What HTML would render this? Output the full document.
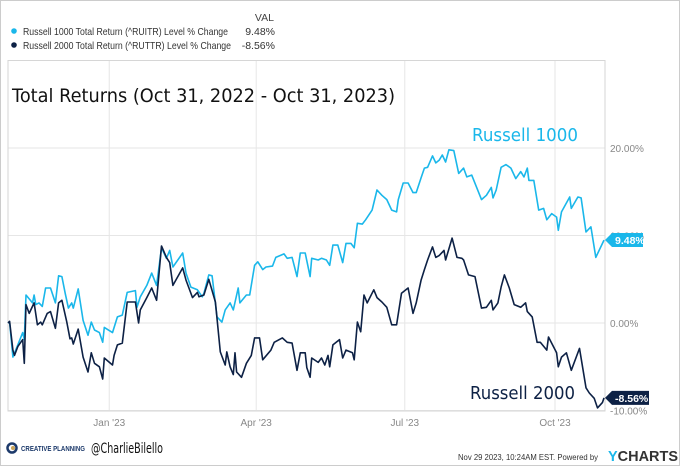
<!DOCTYPE html>
<html><head><meta charset="utf-8"><style>
body{margin:0;background:#fff;}
svg text{font-family:"Liberation Sans Narrow","Liberation Sans",sans-serif;}
.hand{font-family:"DejaVu Sans","Liberation Sans",sans-serif !important;}
</style></head><body>
<svg width="680" height="466" xmlns="http://www.w3.org/2000/svg">
<rect x="0.5" y="0.5" width="679" height="465" fill="#fff" stroke="#ccc"/>
<g font-size="10.5" fill="#333">
<text x="274" y="21" text-anchor="end" fill="#444">VAL</text>
<circle cx="14" cy="31" r="2.8" fill="#1ab7ea"/>
<text x="23" y="35" textLength="205" lengthAdjust="spacingAndGlyphs">Russell 1000 Total Return (^RUITR) Level % Change</text>
<text x="275" y="35" text-anchor="end">9.48%</text>
<circle cx="14" cy="45" r="2.8" fill="#0d2145"/>
<text x="23" y="49" textLength="208" lengthAdjust="spacingAndGlyphs">Russell 2000 Total Return (^RUTTR) Level % Change</text>
<text x="275" y="49" text-anchor="end">-8.56%</text>
</g>
<g id="grid"></g>
<rect x="8" y="60.5" width="597" height="350.5" fill="none" stroke="#d6d6d6"/>
<text class="hand" x="12" y="102" font-size="19" fill="#111" textLength="383" lengthAdjust="spacingAndGlyphs">Total Returns (Oct 31, 2022 - Oct 31, 2023)</text>
<g id="series"></g>
<text class="hand" x="472" y="141" font-size="18" fill="#1ab7ea" textLength="106" lengthAdjust="spacingAndGlyphs">Russell 1000</text>
<text class="hand" x="470" y="399" font-size="18" fill="#0d2145" textLength="105" lengthAdjust="spacingAndGlyphs">Russell 2000</text>
<g id="axes" font-size="10" fill="#888"></g>
<g id="flags"></g>
<g>
<circle cx="12" cy="448" r="4.5" fill="none" stroke="#1d3a6b" stroke-width="2.5"/>
<circle cx="13" cy="448" r="2" fill="#c8a45a"/>
<text x="21" y="451" font-size="7" font-weight="bold" fill="#1d3a6b" textLength="64" lengthAdjust="spacingAndGlyphs">CREATIVE PLANNING</text>
<text class="hand" x="91" y="453" font-size="14" fill="#111" textLength="72" lengthAdjust="spacingAndGlyphs">@CharlieBilello</text>
<text x="458" y="460" font-size="8.5" fill="#333" textLength="140" lengthAdjust="spacingAndGlyphs">Nov 29 2023, 10:24AM EST.  Powered by</text>
<text x="608" y="461" font-size="15" font-weight="bold" fill="#333" textLength="70" lengthAdjust="spacingAndGlyphs" style="font-family:'Liberation Sans',sans-serif"><tspan fill="#1ab7ea">Y</tspan>CHARTS</text>
</g>
</svg>
<script>
const r1000Days=[0,1,3,6,9,10,11,15,16,17,19,21,23,26,28,29,31,33,35,37,39,40,43,46,49,51,53,56,58,59,64,67,70,73,78,79,81,85,88,91,94,97,99,101,107,109,112,116,119,120,123,125,128,131,133,136,138,141,142,146,148,151,153,156,158,162,164,169,171,174,177,179,182,185,186,190,192,195,197,199,202,205,207,210,212,214,217,219,223,226,229,232,235,238,239,242,245,248,250,253,255,257,260,262,264,266,268,270,273,276,279,281,284,290,293,296,297,299,302,305,308,311,314,316,318,319,322,325,328,330,333,336,337,339,344,345,349,351,354,357,360,365];
const r1000Vals=[0,0.1,-3.9,-2.5,-1.1,-1.9,3.2,2.3,3.2,2.1,2.3,1.9,4.0,4.0,2.9,2.3,5.4,5.3,3.4,1.7,2.3,1.7,3.9,0.3,-1.4,0.1,-0.8,-1.1,-2.2,-0.5,-1.1,0.7,0.9,3.5,3.7,1.8,3.0,4.3,5.7,4.3,8.6,7.4,8.3,6.4,8.0,5.7,4.1,3.8,3.0,3.4,5.5,5.4,0.7,0.1,1.5,2.3,1.5,4.0,2.3,3.2,3.2,6.6,7.0,6.1,6.4,6.5,7.5,7.9,7.4,7.5,5.3,8.0,8.0,5.3,7.4,7.2,7.4,7.2,6.6,8.9,8.9,6.9,9.1,9.1,8.6,11.4,11.3,11.8,12.9,15.2,14.6,14.1,12.9,12.7,14.1,16.0,16.0,14.9,14.9,16.6,17.7,17.8,19.1,18.3,18.6,19.2,18.4,19.8,19.7,17.1,17.7,16.7,16.9,14.1,14.6,15.5,14.3,15.2,17.8,18.1,17.7,16.5,17.3,16.7,17.7,16.3,16.3,12.9,13.1,11.8,12.5,12.1,10.6,12.7,14.4,13.1,14.4,14.3,10.4,11.0,7.5,9.48];
const r2000Days=[0,1,3,4,6,9,10,11,13,16,18,20,21,24,26,29,31,33,36,38,39,40,43,46,49,51,53,56,58,59,64,65,67,70,73,78,80,81,85,88,91,94,97,99,101,107,109,113,116,117,120,123,127,130,133,134,136,138,139,140,143,146,149,151,154,156,161,163,168,171,174,177,179,182,183,185,186,190,192,194,196,197,199,203,205,207,211,212,214,216,218,220,224,226,229,232,235,238,241,245,248,250,253,255,257,260,262,264,267,268,272,275,278,279,282,286,290,293,296,297,300,302,304,307,310,314,317,318,321,324,326,330,331,336,337,339,342,345,350,354,356,359,361,364,365];
const r2000Vals=[0,0.2,-3.1,-3.7,-2.7,-1.9,-4.6,2.1,1.1,2.3,-0.2,0.1,-0.2,1.1,1.3,-0.6,2.3,2.6,0.1,-1.8,-1.7,-2.4,-0.7,-3.9,-5.6,-3.4,-4.6,-5.0,-6.4,-4.0,-4.8,-3.7,-2.5,-2.3,2.4,2.4,0.0,1.5,2.9,4.0,2.6,8.8,7.5,6.9,4.3,6.3,4.9,2.9,3.5,3.0,3.2,5.0,2.4,-3.3,-4.8,-3.3,-5.0,-5.9,-3.4,-5.6,-6.2,-4.6,-3.7,-1.7,-1.7,-4.2,-3.1,-2.2,-1.7,-2.2,-2.3,-5.4,-3.4,-3.4,-5.1,-6.2,-4.0,-4.5,-4.0,-4.8,-3.7,-5.0,-2.5,-1.9,-4.0,-3.1,-3.4,-4.2,0.1,-1.0,3.2,2.3,3.8,2.9,2.4,1.8,-0.2,-0.2,3.4,4.0,1.1,2.3,4.9,6.1,7.2,8.7,7.5,7.7,8.3,7.2,9.7,7.5,7.4,7.2,5.5,5.3,1.7,1.8,2.6,1.5,2.3,4.1,5.5,4.0,2.1,1.8,2.3,1.3,0.7,-2.2,-2.2,-3.1,-1.6,-3.4,-5.0,-3.9,-3.4,-5.4,-2.9,-7.4,-8.0,-8.6,-9.7,-9.1,-8.56];
const yTicks=[20,10,0,-10];
const yTickLabels=["20.00%","10.00%","0.00%","-10.00%"];
const xTickDays=[62,152,243,335];
const xTickLabels=["Jan '23","Apr '23","Jul '23","Oct '23"];
const flagLabels=["9.48%","-8.56%"];

const NS="http://www.w3.org/2000/svg";
const X0=8,X1=604,D1=365,Y0=323,PPU=8.75;
const xs=d=>X0+(X1-X0)*d/D1;
const ys=v=>Y0-v*PPU;
function mk(tag,attrs,parent){const e=document.createElementNS(NS,tag);for(const k in attrs)e.setAttribute(k,attrs[k]);parent.appendChild(e);return e;}
const grid=document.getElementById('grid'),axes=document.getElementById('axes'),series=document.getElementById('series'),flags=document.getElementById('flags');
yTicks.forEach((v,i)=>{
  const l=mk('line',{x1:X0,x2:605,y1:ys(v),y2:ys(v),stroke:'#e6e6e6'},grid);
  
  
  const t=mk('text',{x:610,y:ys(v)+4},axes);t.textContent=yTickLabels[i];
  
  
});
xTickDays.forEach((d,i)=>{
  const l=mk('line',{x1:xs(d),x2:xs(d),y1:60,y2:411,stroke:'#e6e6e6'},grid);
  
  
  const t=mk('text',{x:xs(d),y:426,'text-anchor':'middle'},axes);t.textContent=xTickLabels[i];
  
  
});
function line(days,vals,color,name){
  const p=mk('path',{d:days.map((d,i)=>(i?'L':'M')+xs(d).toFixed(1)+','+ys(vals[i]).toFixed(1)).join(''),fill:'none',stroke:color,'stroke-width':1.6,'stroke-linejoin':'round'},series);
  
  
}
line(r1000Days,r1000Vals,'#1ab7ea','line-russell-1000');
line(r2000Days,r2000Vals,'#0d2145','line-russell-2000');
function flag(v,txt,color,w,name){
  const y=ys(v);
  const p=mk('path',{d:`M605,${y} L612,${y-7} L${612+w},${y-7} L${612+w},${y+7} L612,${y+7} Z`,fill:color},flags);
  
  
  const t=mk('text',{x:615,y:y+4,'font-size':10.5,'font-weight':'bold',fill:'#fff'},flags);t.textContent=txt;
  
  
}
flag(r1000Vals[r1000Vals.length-1],flagLabels[0],'#1ab7ea',31,'flag-russell-1000');
flag(r2000Vals[r2000Vals.length-1],flagLabels[1],'#0d2145',37,'flag-russell-2000');
</script>
</body></html>
